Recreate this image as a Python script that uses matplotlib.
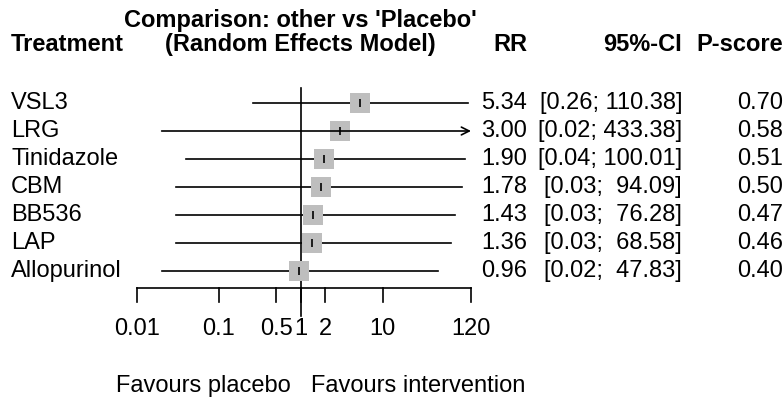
import numpy as np
import matplotlib.pyplot as plt
from matplotlib.transforms import blended_transform_factory

plt.rcParams['font.family'] = ['Liberation Sans', 'DejaVu Sans']

treatments = ['VSL3', 'LRG', 'Tinidazole', 'CBM', 'BB536', 'LAP', 'Allopurinol']
rr = [5.34, 3.00, 1.90, 1.78, 1.43, 1.36, 0.96]
ci_low = [0.26, 0.02, 0.04, 0.03, 0.03, 0.03, 0.02]
ci_high = [110.38, 433.38, 100.01, 94.09, 76.28, 68.58, 47.83]
pscore = [0.70, 0.58, 0.51, 0.50, 0.47, 0.46, 0.40]
ticks = [0.01, 0.1, 0.5, 1, 2, 10, 120]
tick_labels = ['0.01', '0.1', '0.5', '1', '2', '10', '120']

W, H = 783, 403
fig = plt.figure(figsize=(W / 100, H / 100), dpi=100)

# plot column spans x pixels 137..471; rows every 28 px starting at 103
x0, x1 = 137, 471
row0, step = 103, 28
ax = fig.add_axes([x0 / W, 0, (x1 - x0) / W, 1])
ax.set_xscale('log')
ax.set_xlim(0.01, 120)
ax.set_ylim((H - row0) / step, -row0 / step)
ax.axis('off')

fs = 17
col = '#BEBEBE'
y = np.arange(len(treatments))

for i in range(len(treatments)):
    hi = min(ci_high[i], 120)
    if ci_high[i] > 120:
        ax.annotate('', xy=(hi, y[i]), xytext=(ci_low[i], y[i]),
                    arrowprops=dict(arrowstyle='->', lw=1.2, color='black',
                                    shrinkA=0, shrinkB=0, mutation_scale=14),
                    annotation_clip=False)
    else:
        ax.plot([ci_low[i], hi], [y[i], y[i]], color='black', lw=1.2,
                clip_on=False, zorder=1)
ax.plot(rr, y, 's', color=col, markersize=15, markeredgewidth=0, zorder=2,
        clip_on=False)
ax.plot(rr, y, '|', color='black', markersize=6, markeredgewidth=1.2, zorder=3,
        clip_on=False)

# reference line and axis
ax.plot([1, 1], [-0.54, 7.6], color='black', lw=1.2, clip_on=False, zorder=1)
ax.plot([0.01, 120], [6.61, 6.61], color='black', lw=1.2, clip_on=False)
for t, lab in zip(ticks, tick_labels):
    ax.plot([t, t], [6.61, 7.1], color='black', lw=1.2, clip_on=False)
    ax.text(t, 8.08, lab, ha='center', va='center', fontsize=fs)

ax.text(0.75, 10.1, 'Favours placebo', ha='right', va='center', fontsize=fs)
ax.text(1.35, 10.1, 'Favours intervention', ha='left', va='center', fontsize=fs)

ax.text(1.0, -2.95, "Comparison: other vs 'Placebo'", ha='center', va='center',
        fontsize=fs, fontweight='bold')
ax.text(1.0, -2.08, '(Random Effects Model)', ha='center', va='center',
        fontsize=fs, fontweight='bold')

# text columns in figure pixels
tr = blended_transform_factory(fig.transFigure, ax.transData)
def fx(px):
    return px / W

ax.text(fx(11), -2.08, 'Treatment', transform=tr, ha='left', va='center',
        fontsize=fs, fontweight='bold')
ax.text(fx(527), -2.08, 'RR', transform=tr, ha='right', va='center',
        fontsize=fs, fontweight='bold')
ax.text(fx(682), -2.08, '95%-CI', transform=tr, ha='right', va='center',
        fontsize=fs, fontweight='bold')
ax.text(fx(783), -2.08, 'P-score', transform=tr, ha='right', va='center',
        fontsize=fs, fontweight='bold')

for i in range(len(treatments)):
    ax.text(fx(11), y[i], treatments[i], transform=tr, ha='left', va='center',
            fontsize=fs)
    ax.text(fx(527), y[i], f'{rr[i]:.2f}', transform=tr, ha='right',
            va='center', fontsize=fs)
    ci = f'[{ci_low[i]:.2f}; {ci_high[i]:6.2f}]'
    ax.text(fx(682), y[i], ci, transform=tr, ha='right', va='center',
            fontsize=fs)
    ax.text(fx(783), y[i], f'{pscore[i]:.2f}', transform=tr, ha='right',
            va='center', fontsize=fs)

fig.savefig('out.png', dpi=100)
